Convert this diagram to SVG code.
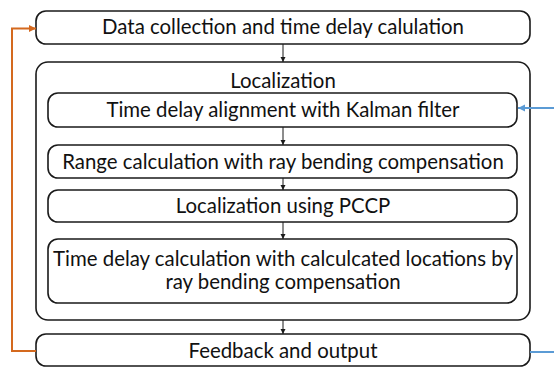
<svg xmlns="http://www.w3.org/2000/svg" width="554" height="368" viewBox="0 0 554 368">
<style>
.box{fill:#fff;stroke:#1a1a1a;stroke-width:1.6}
.t{font-family:Lato,"Open Sans","Liberation Sans",sans-serif;font-size:20.4px;fill:#111;text-anchor:middle}
.c{fill:none;stroke:#1a1a1a;stroke-width:1}
</style>
<defs>
<marker id="ab" markerWidth="6" markerHeight="6" refX="5" refY="3" orient="auto" markerUnits="userSpaceOnUse"><path d="M0,0.5 L5,3 L0,5.5 Z" fill="#1a1a1a"/></marker>
<marker id="ao" markerWidth="8" markerHeight="8" refX="7" refY="4" orient="auto" markerUnits="userSpaceOnUse"><path d="M0,0.5 L7,4 L0,7.5 Z" fill="#D4691E"/></marker>
<marker id="abl" markerWidth="8" markerHeight="8" refX="7" refY="4" orient="auto" markerUnits="userSpaceOnUse"><path d="M0,0.5 L7,4 L0,7.5 Z" fill="#5B9BD5"/></marker>
</defs>
<g id="n-data"><rect class="box" x="36" y="11" width="494" height="33" rx="10"/><text class="t" x="283" y="34">Data collection and time delay calulation</text></g>
<g id="n-localization"><rect class="box" x="36" y="62" width="494" height="258" rx="12"/><text class="t" x="283" y="88">Localization</text></g>
<g id="n-kalman"><rect class="box" x="48" y="93" width="469" height="34" rx="10"/><text class="t" x="283" y="117">Time delay alignment with Kalman filter</text></g>
<g id="n-range"><rect class="box" x="48" y="145" width="469" height="33" rx="10"/><text class="t" x="283" y="168.5">Range calculation with ray bending compensation</text></g>
<g id="n-pccp"><rect class="box" x="48" y="190" width="469" height="32" rx="10"/><text class="t" x="283" y="213">Localization using PCCP</text></g>
<g id="n-timecalc"><rect class="box" x="48" y="239" width="469" height="64" rx="10"/><text class="t" x="283" y="265.5">Time delay calculation with calculcated locations by</text><text class="t" x="283" y="288.5">ray bending compensation</text></g>
<g id="n-feedback"><rect class="box" x="36" y="334" width="494" height="32" rx="10"/><text class="t" x="283" y="357.5">Feedback and output</text></g>
<g id="connectors">
<line class="c" x1="283" y1="44" x2="283" y2="62" marker-end="url(#ab)"/>
<line class="c" x1="283" y1="127" x2="283" y2="145" marker-end="url(#ab)"/>
<line class="c" x1="283" y1="178" x2="283" y2="190" marker-end="url(#ab)"/>
<line class="c" x1="283" y1="222" x2="283" y2="239" marker-end="url(#ab)"/>
<line class="c" x1="283" y1="320" x2="283" y2="334" marker-end="url(#ab)"/>
<polyline points="36,351 12,351 12,28.5 36,28.5" fill="none" stroke="#D4691E" stroke-width="2" marker-end="url(#ao)"/>
<line x1="554" y1="108" x2="518" y2="108" stroke="#5B9BD5" stroke-width="2" marker-end="url(#abl)"/>
<line x1="530" y1="352" x2="554" y2="352" stroke="#5B9BD5" stroke-width="2"/>
</g>
</svg>
